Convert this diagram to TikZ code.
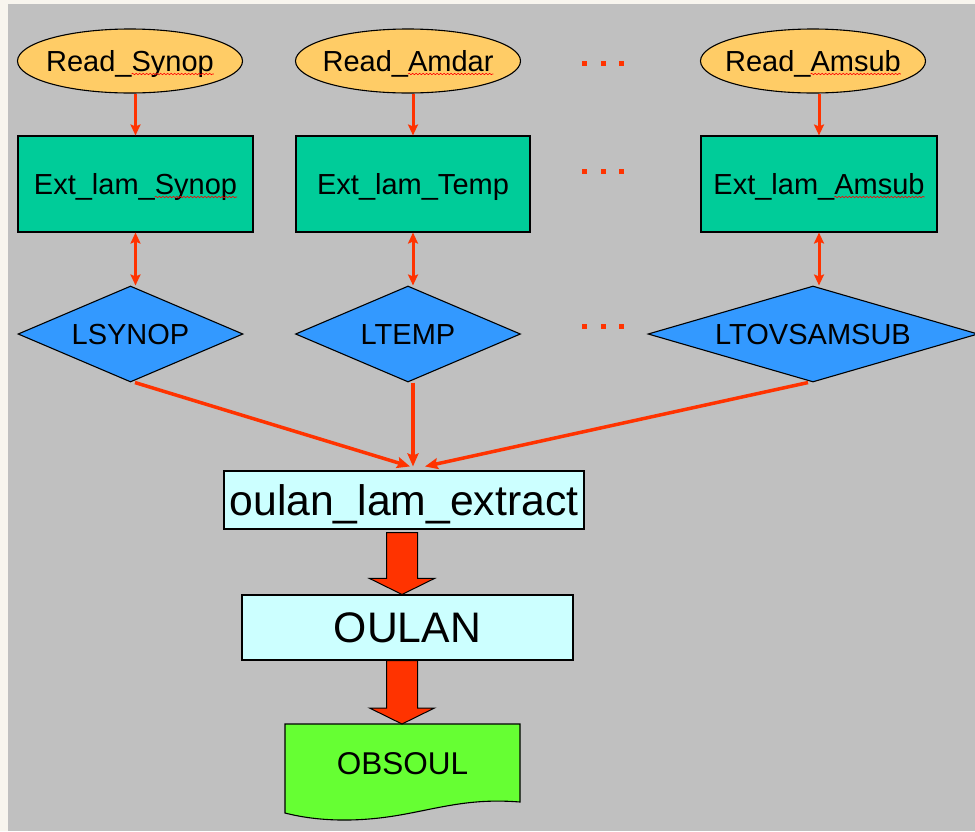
\documentclass[tikz,border=0pt]{standalone}
\usepackage{fontspec}
\setmainfont{Liberation Sans}
\usetikzlibrary{shapes.geometric,arrows.meta,calc,decorations.pathmorphing}

\definecolor{page}{HTML}{F8F5EE}
\definecolor{slide}{HTML}{C0C0C0}
\definecolor{readfill}{HTML}{FFCC66}
\definecolor{extfill}{HTML}{00CC99}
\definecolor{flagfill}{HTML}{3399FF}
\definecolor{procfill}{HTML}{CCFFFF}
\definecolor{docfill}{HTML}{66FF33}
\definecolor{arrowred}{HTML}{FF3300}

\tikzset{
  spellmark/.style={draw=red, line width=0.6pt, decorate,
    decoration={snake, amplitude=0.7pt, segment length=3.5pt}},
}

% red wavy underline below a word
\newlength\squiglen
\newcommand\squig[1]{\settowidth\squiglen{#1}#1\tikz[overlay,baseline=0pt]\draw[spellmark] (-\squiglen,-2.5pt) -- (0pt,-2.5pt);}

% broad block arrow from #1 (top of shaft) down to #2 (tip)
\newcommand\fatarrow[2]{%
  \draw[fatarrowstyle] let \p1=(#1), \p2=(#2) in
    (\x1-15.5pt,\y1) -- (\x1+15.5pt,\y1) -- (\x1+15.5pt,\y2+16pt)
    -- (\x1+32.5pt,\y2+16pt) -- (\x1,\y2) -- (\x1-32.5pt,\y2+16pt)
    -- (\x1-15.5pt,\y2+16pt) -- cycle;}

\begin{document}
\begin{tikzpicture}[x=1pt,y=-1pt,
  small/.style={font=\fontsize{29}{33}\selectfont, text height=21pt, text depth=0pt},
  reader/.style={small, ellipse, draw=black, line width=1.1pt, fill=readfill,
    minimum width=225pt, minimum height=64pt, inner sep=0pt},
  extbox/.style={small, rectangle, draw=black, line width=1.1pt, fill=extfill,
    minimum height=96pt, inner sep=0pt},
  flag/.style={small, diamond, draw=black, line width=1.1pt, fill=flagfill,
    minimum height=96pt, inner sep=0pt},
  procbox/.style={rectangle, draw=black, line width=1.1pt, fill=procfill,
    font=\fontsize{42.7}{48}\selectfont, text height=30pt, text depth=0pt, inner sep=0pt},
  link/.style={draw=arrowred, line width=3pt, -{Stealth[length=11pt,width=10pt,inset=2pt]}},
  dlink/.style={draw=arrowred, line width=3pt, {Stealth[length=11pt,width=10pt,inset=2pt]}-{Stealth[length=11pt,width=10pt,inset=2pt]}},
  feed/.style={draw=arrowred, line width=3.5pt, -{Stealth[length=13pt,width=11pt,inset=2pt]}},
  fatarrowstyle/.style={draw=black, line width=1pt, fill=arrowred},
  docshape/.style={draw=black, line width=1.1pt, fill=docfill},
]
\useasboundingbox[fill=page] (0,0) rectangle (975,831);
\fill[slide] (8,4) rectangle (975,831);

% readers
\node[reader] (rs) at (130,61) {\makebox[0pt]{Read\_\squig{Synop}}};
\node[reader] (ra) at (408,61) {\makebox[0pt]{Read\_\squig{Amdar}}};
\node[reader] (rm) at (813,61) {\makebox[0pt]{Read\_\squig{Amsub}}};

% extraction routines
\node[extbox, minimum width=235pt] (xs) at (135.5,184) {Ext\_lam\_\squig{Synop}};
\node[extbox, minimum width=234pt] (xt) at (413,184) {Ext\_lam\_Temp};
\node[extbox, minimum width=236pt] (xm) at (819,184) {Ext\_lam\_\squig{Amsub}};

% logical switches
\node[flag, minimum width=225pt] (ls) at (130.5,334) {\makebox[0pt]{LSYNOP}};
\node[flag, minimum width=225pt] (lt) at (408,334) {\makebox[0pt]{LTEMP}};
\node[flag, minimum width=330pt] (lm) at (813,334) {\makebox[0pt]{LTOVSAMSUB}};

% ellipsis marks
\foreach \y in {63,171,326}
  \foreach \x in {584,603,621}
    \fill[arrowred] (\x-2.5,\y-2.5) rectangle +(5,5);

% reader -> extraction
\draw[link] (rs.south -| xs.north) -- (xs.north);
\draw[link] (ra.south -| xt.north) -- (xt.north);
\draw[link] (rm.south -| xm.north) -- (xm.north);

% extraction <-> switch
\draw[dlink] (xs.south) -- (xs.south |- ls.north);
\draw[dlink] (xt.south) -- (xt.south |- lt.north);
\draw[dlink] (xm.south) -- (xm.south |- lm.north);

% main extraction and output
\node[procbox, minimum width=360pt, minimum height=58pt] (ox) at (404,500) {oulan\_lam\_extract};
\node[procbox, minimum width=331pt, minimum height=65pt] (ou) at (407.5,627.5) {OULAN};

\coordinate (inL) at ([xshift=6pt,yshift=4pt]ox.north);
\coordinate (inM) at ([xshift=9pt,yshift=4pt]ox.north);
\coordinate (inR) at ([xshift=21pt,yshift=4pt]ox.north);
\draw[feed] ([xshift=4.5pt]ls.south) -- (inL);
\draw[feed] (lt.south -| inM) -- (inM);
\draw[feed] ([xshift=-5pt]lm.south) -- (inR);

% output file
\draw[docshape] (285,724) -- (520,724) -- (520,802)
  .. controls (470,798) and (440,808) .. (400,815)
  .. controls (360,822) and (320,822) .. (285,813) -- cycle;
\node[font=\fontsize{31.5}{36}\selectfont, text height=22pt, text depth=0pt, inner sep=0pt]
  (obs) at (402.5,763.5) {OBSOUL};
\coordinate (obstop) at (402,724);

\fatarrow{[xshift=-2pt,yshift=-3pt]ox.south}{ou.north}
\fatarrow{[xshift=-5.5pt]ou.south}{obstop}
\end{tikzpicture}
\end{document}
